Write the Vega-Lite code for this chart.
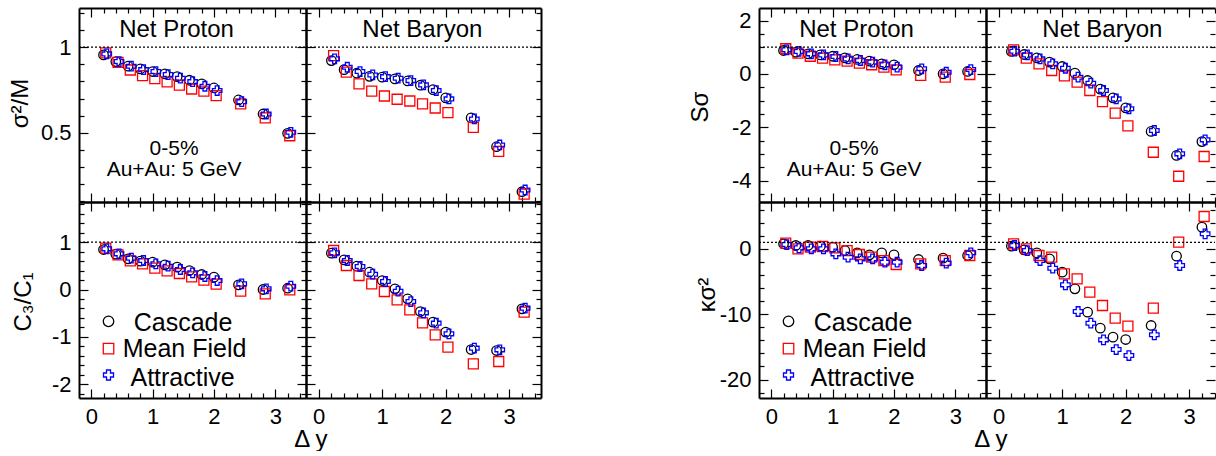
{
"$schema":"https://vega.github.io/schema/vega-lite/v6.json",
"background":"white",
"padding":{"left":8,"top":1,"right":0,"bottom":0},
"config":{
 "view":{"stroke":null},
 "axis":{"grid":false,"domainColor":"#000","domainWidth":2,"tickColor":"#000","tickWidth":1.2,"labelFont":"Liberation Sans","labelFontSize":22,"labelColor":"#000","titleFont":"Liberation Sans","titleFontSize":24,"titleFontWeight":"normal","titleColor":"#000","labelFlush":false,"labelOverlap":false,"labelBound":false},
 "text":{"font":"Liberation Sans","color":"#000"}
},
"datasets":{"pts":[
{"o":"s2M","s":"P","m":"C","d":0.2,"v":0.955},{"o":"s2M","s":"P","m":"C","d":0.4,"v":0.916},{"o":"s2M","s":"P","m":"C","d":0.6,"v":0.889},{"o":"s2M","s":"P","m":"C","d":0.8,"v":0.873},{"o":"s2M","s":"P","m":"C","d":1.0,"v":0.858},{"o":"s2M","s":"P","m":"C","d":1.2,"v":0.844},{"o":"s2M","s":"P","m":"C","d":1.4,"v":0.828},{"o":"s2M","s":"P","m":"C","d":1.6,"v":0.807},{"o":"s2M","s":"P","m":"C","d":1.8,"v":0.786},{"o":"s2M","s":"P","m":"C","d":2.0,"v":0.762},{"o":"s2M","s":"P","m":"C","d":2.4,"v":0.692},{"o":"s2M","s":"P","m":"C","d":2.8,"v":0.610},{"o":"s2M","s":"P","m":"C","d":3.2,"v":0.497},
{"o":"s2M","s":"P","m":"M","d":0.2,"v":0.967},{"o":"s2M","s":"P","m":"M","d":0.4,"v":0.912},{"o":"s2M","s":"P","m":"M","d":0.6,"v":0.867},{"o":"s2M","s":"P","m":"M","d":0.8,"v":0.834},{"o":"s2M","s":"P","m":"M","d":1.0,"v":0.817},{"o":"s2M","s":"P","m":"M","d":1.2,"v":0.797},{"o":"s2M","s":"P","m":"M","d":1.4,"v":0.778},{"o":"s2M","s":"P","m":"M","d":1.6,"v":0.756},{"o":"s2M","s":"P","m":"M","d":1.8,"v":0.743},{"o":"s2M","s":"P","m":"M","d":2.0,"v":0.717},{"o":"s2M","s":"P","m":"M","d":2.4,"v":0.669},{"o":"s2M","s":"P","m":"M","d":2.8,"v":0.587},{"o":"s2M","s":"P","m":"M","d":3.2,"v":0.483},
{"o":"s2M","s":"P","m":"A","d":0.2,"v":0.961},{"o":"s2M","s":"P","m":"A","d":0.4,"v":0.916},{"o":"s2M","s":"P","m":"A","d":0.6,"v":0.889},{"o":"s2M","s":"P","m":"A","d":0.8,"v":0.869},{"o":"s2M","s":"P","m":"A","d":1.0,"v":0.858},{"o":"s2M","s":"P","m":"A","d":1.2,"v":0.840},{"o":"s2M","s":"P","m":"A","d":1.4,"v":0.819},{"o":"s2M","s":"P","m":"A","d":1.6,"v":0.799},{"o":"s2M","s":"P","m":"A","d":1.8,"v":0.772},{"o":"s2M","s":"P","m":"A","d":2.0,"v":0.747},{"o":"s2M","s":"P","m":"A","d":2.4,"v":0.682},{"o":"s2M","s":"P","m":"A","d":2.8,"v":0.610},{"o":"s2M","s":"P","m":"A","d":3.2,"v":0.503},
{"o":"s2M","s":"B","m":"C","d":0.2,"v":0.922},{"o":"s2M","s":"B","m":"C","d":0.4,"v":0.869},{"o":"s2M","s":"B","m":"C","d":0.6,"v":0.848},{"o":"s2M","s":"B","m":"C","d":0.8,"v":0.830},{"o":"s2M","s":"B","m":"C","d":1.0,"v":0.825},{"o":"s2M","s":"B","m":"C","d":1.2,"v":0.815},{"o":"s2M","s":"B","m":"C","d":1.4,"v":0.803},{"o":"s2M","s":"B","m":"C","d":1.6,"v":0.778},{"o":"s2M","s":"B","m":"C","d":1.8,"v":0.752},{"o":"s2M","s":"B","m":"C","d":2.0,"v":0.704},{"o":"s2M","s":"B","m":"C","d":2.4,"v":0.587},{"o":"s2M","s":"B","m":"C","d":2.8,"v":0.419},{"o":"s2M","s":"B","m":"C","d":3.2,"v":0.156},
{"o":"s2M","s":"B","m":"M","d":0.2,"v":0.951},{"o":"s2M","s":"B","m":"M","d":0.4,"v":0.854},{"o":"s2M","s":"B","m":"M","d":0.6,"v":0.786},{"o":"s2M","s":"B","m":"M","d":0.8,"v":0.743},{"o":"s2M","s":"B","m":"M","d":1.0,"v":0.715},{"o":"s2M","s":"B","m":"M","d":1.2,"v":0.696},{"o":"s2M","s":"B","m":"M","d":1.4,"v":0.686},{"o":"s2M","s":"B","m":"M","d":1.6,"v":0.669},{"o":"s2M","s":"B","m":"M","d":1.8,"v":0.645},{"o":"s2M","s":"B","m":"M","d":2.0,"v":0.618},{"o":"s2M","s":"B","m":"M","d":2.4,"v":0.532},{"o":"s2M","s":"B","m":"M","d":2.8,"v":0.392},{"o":"s2M","s":"B","m":"M","d":3.2,"v":0.142},
{"o":"s2M","s":"B","m":"A","d":0.2,"v":0.932},{"o":"s2M","s":"B","m":"A","d":0.4,"v":0.883},{"o":"s2M","s":"B","m":"A","d":0.6,"v":0.858},{"o":"s2M","s":"B","m":"A","d":0.8,"v":0.838},{"o":"s2M","s":"B","m":"A","d":1.0,"v":0.828},{"o":"s2M","s":"B","m":"A","d":1.2,"v":0.819},{"o":"s2M","s":"B","m":"A","d":1.4,"v":0.805},{"o":"s2M","s":"B","m":"A","d":1.6,"v":0.780},{"o":"s2M","s":"B","m":"A","d":1.8,"v":0.747},{"o":"s2M","s":"B","m":"A","d":2.0,"v":0.698},{"o":"s2M","s":"B","m":"A","d":2.4,"v":0.581},{"o":"s2M","s":"B","m":"A","d":2.8,"v":0.429},{"o":"s2M","s":"B","m":"A","d":3.2,"v":0.166},
{"o":"C3","s":"P","m":"C","d":0.2,"v":0.845},{"o":"C3","s":"P","m":"C","d":0.4,"v":0.746},{"o":"C3","s":"P","m":"C","d":0.6,"v":0.648},{"o":"C3","s":"P","m":"C","d":0.8,"v":0.599},{"o":"C3","s":"P","m":"C","d":1.0,"v":0.577},{"o":"C3","s":"P","m":"C","d":1.2,"v":0.521},{"o":"C3","s":"P","m":"C","d":1.4,"v":0.472},{"o":"C3","s":"P","m":"C","d":1.6,"v":0.401},{"o":"C3","s":"P","m":"C","d":1.8,"v":0.317},{"o":"C3","s":"P","m":"C","d":2.0,"v":0.261},{"o":"C3","s":"P","m":"C","d":2.4,"v":0.099},{"o":"C3","s":"P","m":"C","d":2.8,"v":0.0},{"o":"C3","s":"P","m":"C","d":3.2,"v":0.028},
{"o":"C3","s":"P","m":"M","d":0.2,"v":0.873},{"o":"C3","s":"P","m":"M","d":0.4,"v":0.732},{"o":"C3","s":"P","m":"M","d":0.6,"v":0.606},{"o":"C3","s":"P","m":"M","d":0.8,"v":0.542},{"o":"C3","s":"P","m":"M","d":1.0,"v":0.451},{"o":"C3","s":"P","m":"M","d":1.2,"v":0.394},{"o":"C3","s":"P","m":"M","d":1.4,"v":0.338},{"o":"C3","s":"P","m":"M","d":1.6,"v":0.268},{"o":"C3","s":"P","m":"M","d":1.8,"v":0.197},{"o":"C3","s":"P","m":"M","d":2.0,"v":0.113},{"o":"C3","s":"P","m":"M","d":2.4,"v":-0.035},{"o":"C3","s":"P","m":"M","d":2.8,"v":-0.092},{"o":"C3","s":"P","m":"M","d":3.2,"v":-0.007},
{"o":"C3","s":"P","m":"A","d":0.2,"v":0.859},{"o":"C3","s":"P","m":"A","d":0.4,"v":0.754},{"o":"C3","s":"P","m":"A","d":0.6,"v":0.662},{"o":"C3","s":"P","m":"A","d":0.8,"v":0.613},{"o":"C3","s":"P","m":"A","d":1.0,"v":0.542},{"o":"C3","s":"P","m":"A","d":1.2,"v":0.493},{"o":"C3","s":"P","m":"A","d":1.4,"v":0.423},{"o":"C3","s":"P","m":"A","d":1.6,"v":0.352},{"o":"C3","s":"P","m":"A","d":1.8,"v":0.275},{"o":"C3","s":"P","m":"A","d":2.0,"v":0.190},{"o":"C3","s":"P","m":"A","d":2.4,"v":0.120},{"o":"C3","s":"P","m":"A","d":2.8,"v":0.014},{"o":"C3","s":"P","m":"A","d":3.2,"v":0.070},
{"o":"C3","s":"B","m":"C","d":0.2,"v":0.768},{"o":"C3","s":"B","m":"C","d":0.4,"v":0.627},{"o":"C3","s":"B","m":"C","d":0.6,"v":0.493},{"o":"C3","s":"B","m":"C","d":0.8,"v":0.366},{"o":"C3","s":"B","m":"C","d":1.0,"v":0.190},{"o":"C3","s":"B","m":"C","d":1.2,"v":0.014},{"o":"C3","s":"B","m":"C","d":1.4,"v":-0.197},{"o":"C3","s":"B","m":"C","d":1.6,"v":-0.465},{"o":"C3","s":"B","m":"C","d":1.8,"v":-0.690},{"o":"C3","s":"B","m":"C","d":2.0,"v":-0.901},{"o":"C3","s":"B","m":"C","d":2.4,"v":-1.268},{"o":"C3","s":"B","m":"C","d":2.8,"v":-1.289},{"o":"C3","s":"B","m":"C","d":3.2,"v":-0.408},
{"o":"C3","s":"B","m":"M","d":0.2,"v":0.824},{"o":"C3","s":"B","m":"M","d":0.4,"v":0.507},{"o":"C3","s":"B","m":"M","d":0.6,"v":0.296},{"o":"C3","s":"B","m":"M","d":0.8,"v":0.120},{"o":"C3","s":"B","m":"M","d":1.0,"v":-0.042},{"o":"C3","s":"B","m":"M","d":1.2,"v":-0.218},{"o":"C3","s":"B","m":"M","d":1.4,"v":-0.430},{"o":"C3","s":"B","m":"M","d":1.6,"v":-0.704},{"o":"C3","s":"B","m":"M","d":1.8,"v":-0.958},{"o":"C3","s":"B","m":"M","d":2.0,"v":-1.218},{"o":"C3","s":"B","m":"M","d":2.4,"v":-1.570},{"o":"C3","s":"B","m":"M","d":2.8,"v":-1.521},{"o":"C3","s":"B","m":"M","d":3.2,"v":-0.479},
{"o":"C3","s":"B","m":"A","d":0.2,"v":0.775},{"o":"C3","s":"B","m":"A","d":0.4,"v":0.613},{"o":"C3","s":"B","m":"A","d":0.6,"v":0.486},{"o":"C3","s":"B","m":"A","d":0.8,"v":0.324},{"o":"C3","s":"B","m":"A","d":1.0,"v":0.169},{"o":"C3","s":"B","m":"A","d":1.2,"v":-0.035},{"o":"C3","s":"B","m":"A","d":1.4,"v":-0.254},{"o":"C3","s":"B","m":"A","d":1.6,"v":-0.493},{"o":"C3","s":"B","m":"A","d":1.8,"v":-0.711},{"o":"C3","s":"B","m":"A","d":2.0,"v":-0.937},{"o":"C3","s":"B","m":"A","d":2.4,"v":-1.239},{"o":"C3","s":"B","m":"A","d":2.8,"v":-1.275},{"o":"C3","s":"B","m":"A","d":3.2,"v":-0.394},
{"o":"Ss","s":"P","m":"C","d":0.2,"v":0.875},{"o":"Ss","s":"P","m":"C","d":0.4,"v":0.81},{"o":"Ss","s":"P","m":"C","d":0.6,"v":0.75},{"o":"Ss","s":"P","m":"C","d":0.8,"v":0.71},{"o":"Ss","s":"P","m":"C","d":1.0,"v":0.66},{"o":"Ss","s":"P","m":"C","d":1.2,"v":0.60},{"o":"Ss","s":"P","m":"C","d":1.4,"v":0.54},{"o":"Ss","s":"P","m":"C","d":1.6,"v":0.475},{"o":"Ss","s":"P","m":"C","d":1.8,"v":0.375},{"o":"Ss","s":"P","m":"C","d":2.0,"v":0.34},{"o":"Ss","s":"P","m":"C","d":2.4,"v":0.125},{"o":"Ss","s":"P","m":"C","d":2.8,"v":0.0},{"o":"Ss","s":"P","m":"C","d":3.2,"v":0.09},
{"o":"Ss","s":"P","m":"M","d":0.2,"v":0.94},{"o":"Ss","s":"P","m":"M","d":0.4,"v":0.775},{"o":"Ss","s":"P","m":"M","d":0.6,"v":0.66},{"o":"Ss","s":"P","m":"M","d":0.8,"v":0.59},{"o":"Ss","s":"P","m":"M","d":1.0,"v":0.525},{"o":"Ss","s":"P","m":"M","d":1.2,"v":0.475},{"o":"Ss","s":"P","m":"M","d":1.4,"v":0.40},{"o":"Ss","s":"P","m":"M","d":1.6,"v":0.34},{"o":"Ss","s":"P","m":"M","d":1.8,"v":0.25},{"o":"Ss","s":"P","m":"M","d":2.0,"v":0.15},{"o":"Ss","s":"P","m":"M","d":2.4,"v":-0.06},{"o":"Ss","s":"P","m":"M","d":2.8,"v":-0.125},{"o":"Ss","s":"P","m":"M","d":3.2,"v":-0.025},
{"o":"Ss","s":"P","m":"A","d":0.2,"v":0.90},{"o":"Ss","s":"P","m":"A","d":0.4,"v":0.84},{"o":"Ss","s":"P","m":"A","d":0.6,"v":0.75},{"o":"Ss","s":"P","m":"A","d":0.8,"v":0.71},{"o":"Ss","s":"P","m":"A","d":1.0,"v":0.65},{"o":"Ss","s":"P","m":"A","d":1.2,"v":0.56},{"o":"Ss","s":"P","m":"A","d":1.4,"v":0.50},{"o":"Ss","s":"P","m":"A","d":1.6,"v":0.44},{"o":"Ss","s":"P","m":"A","d":1.8,"v":0.34},{"o":"Ss","s":"P","m":"A","d":2.0,"v":0.25},{"o":"Ss","s":"P","m":"A","d":2.4,"v":0.19},{"o":"Ss","s":"P","m":"A","d":2.8,"v":0.06},{"o":"Ss","s":"P","m":"A","d":3.2,"v":0.16},
{"o":"Ss","s":"B","m":"C","d":0.2,"v":0.84},{"o":"Ss","s":"B","m":"C","d":0.4,"v":0.725},{"o":"Ss","s":"B","m":"C","d":0.6,"v":0.60},{"o":"Ss","s":"B","m":"C","d":0.8,"v":0.44},{"o":"Ss","s":"B","m":"C","d":1.0,"v":0.275},{"o":"Ss","s":"B","m":"C","d":1.2,"v":0.025},{"o":"Ss","s":"B","m":"C","d":1.4,"v":-0.25},{"o":"Ss","s":"B","m":"C","d":1.6,"v":-0.575},{"o":"Ss","s":"B","m":"C","d":1.8,"v":-0.90},{"o":"Ss","s":"B","m":"C","d":2.0,"v":-1.275},{"o":"Ss","s":"B","m":"C","d":2.4,"v":-2.16},{"o":"Ss","s":"B","m":"C","d":2.8,"v":-3.06},{"o":"Ss","s":"B","m":"C","d":3.2,"v":-2.54},
{"o":"Ss","s":"B","m":"M","d":0.2,"v":0.90},{"o":"Ss","s":"B","m":"M","d":0.4,"v":0.59},{"o":"Ss","s":"B","m":"M","d":0.6,"v":0.375},{"o":"Ss","s":"B","m":"M","d":0.8,"v":0.125},{"o":"Ss","s":"B","m":"M","d":1.0,"v":-0.075},{"o":"Ss","s":"B","m":"M","d":1.2,"v":-0.31},{"o":"Ss","s":"B","m":"M","d":1.4,"v":-0.625},{"o":"Ss","s":"B","m":"M","d":1.6,"v":-1.04},{"o":"Ss","s":"B","m":"M","d":1.8,"v":-1.475},{"o":"Ss","s":"B","m":"M","d":2.0,"v":-1.95},{"o":"Ss","s":"B","m":"M","d":2.4,"v":-2.94},{"o":"Ss","s":"B","m":"M","d":2.8,"v":-3.84},{"o":"Ss","s":"B","m":"M","d":3.2,"v":-3.10},
{"o":"Ss","s":"B","m":"A","d":0.2,"v":0.85},{"o":"Ss","s":"B","m":"A","d":0.4,"v":0.71},{"o":"Ss","s":"B","m":"A","d":0.6,"v":0.56},{"o":"Ss","s":"B","m":"A","d":0.8,"v":0.375},{"o":"Ss","s":"B","m":"A","d":1.0,"v":0.21},{"o":"Ss","s":"B","m":"A","d":1.2,"v":-0.125},{"o":"Ss","s":"B","m":"A","d":1.4,"v":-0.35},{"o":"Ss","s":"B","m":"A","d":1.6,"v":-0.625},{"o":"Ss","s":"B","m":"A","d":1.8,"v":-0.94},{"o":"Ss","s":"B","m":"A","d":2.0,"v":-1.31},{"o":"Ss","s":"B","m":"A","d":2.4,"v":-2.125},{"o":"Ss","s":"B","m":"A","d":2.8,"v":-3.0},{"o":"Ss","s":"B","m":"A","d":3.2,"v":-2.475},
{"o":"k2","s":"P","m":"C","d":0.2,"v":0.77},{"o":"k2","s":"P","m":"C","d":0.4,"v":0.51},{"o":"k2","s":"P","m":"C","d":0.6,"v":0.51},{"o":"k2","s":"P","m":"C","d":0.8,"v":0.41},{"o":"k2","s":"P","m":"C","d":1.0,"v":0.26},{"o":"k2","s":"P","m":"C","d":1.2,"v":-0.26},{"o":"k2","s":"P","m":"C","d":1.4,"v":-0.61},{"o":"k2","s":"P","m":"C","d":1.6,"v":-0.92},{"o":"k2","s":"P","m":"C","d":1.8,"v":-0.61},{"o":"k2","s":"P","m":"C","d":2.0,"v":-0.92},{"o":"k2","s":"P","m":"C","d":2.4,"v":-1.63},{"o":"k2","s":"P","m":"C","d":2.8,"v":-1.43},{"o":"k2","s":"P","m":"C","d":3.2,"v":-1.02},
{"o":"k2","s":"P","m":"M","d":0.2,"v":0.87},{"o":"k2","s":"P","m":"M","d":0.4,"v":0.0},{"o":"k2","s":"P","m":"M","d":0.6,"v":0.26},{"o":"k2","s":"P","m":"M","d":0.8,"v":0.36},{"o":"k2","s":"P","m":"M","d":1.0,"v":0.15},{"o":"k2","s":"P","m":"M","d":1.2,"v":-0.26},{"o":"k2","s":"P","m":"M","d":1.4,"v":-0.87},{"o":"k2","s":"P","m":"M","d":1.6,"v":-1.28},{"o":"k2","s":"P","m":"M","d":1.8,"v":-1.79},{"o":"k2","s":"P","m":"M","d":2.0,"v":-2.40},{"o":"k2","s":"P","m":"M","d":2.4,"v":-2.30},{"o":"k2","s":"P","m":"M","d":2.8,"v":-1.79},{"o":"k2","s":"P","m":"M","d":3.2,"v":-1.02},
{"o":"k2","s":"P","m":"A","d":0.2,"v":0.66},{"o":"k2","s":"P","m":"A","d":0.4,"v":0.15},{"o":"k2","s":"P","m":"A","d":0.6,"v":0.0},{"o":"k2","s":"P","m":"A","d":0.8,"v":0.0},{"o":"k2","s":"P","m":"A","d":1.0,"v":-0.77},{"o":"k2","s":"P","m":"A","d":1.2,"v":-1.28},{"o":"k2","s":"P","m":"A","d":1.4,"v":-1.53},{"o":"k2","s":"P","m":"A","d":1.6,"v":-1.53},{"o":"k2","s":"P","m":"A","d":1.8,"v":-2.04},{"o":"k2","s":"P","m":"A","d":2.0,"v":-2.04},{"o":"k2","s":"P","m":"A","d":2.4,"v":-2.55},{"o":"k2","s":"P","m":"A","d":2.8,"v":-2.19},{"o":"k2","s":"P","m":"A","d":3.2,"v":-0.61},
{"o":"k2","s":"B","m":"C","d":0.2,"v":0.41},{"o":"k2","s":"B","m":"C","d":0.4,"v":-0.15},{"o":"k2","s":"B","m":"C","d":0.6,"v":-0.61},{"o":"k2","s":"B","m":"C","d":0.8,"v":-1.53},{"o":"k2","s":"B","m":"C","d":1.0,"v":-3.57},{"o":"k2","s":"B","m":"C","d":1.2,"v":-6.12},{"o":"k2","s":"B","m":"C","d":1.4,"v":-9.69},{"o":"k2","s":"B","m":"C","d":1.6,"v":-12.14},{"o":"k2","s":"B","m":"C","d":1.8,"v":-13.52},{"o":"k2","s":"B","m":"C","d":2.0,"v":-13.88},{"o":"k2","s":"B","m":"C","d":2.4,"v":-11.73},{"o":"k2","s":"B","m":"C","d":2.8,"v":-1.12},{"o":"k2","s":"B","m":"C","d":3.2,"v":3.32},
{"o":"k2","s":"B","m":"M","d":0.2,"v":0.77},{"o":"k2","s":"B","m":"M","d":0.4,"v":0.0},{"o":"k2","s":"B","m":"M","d":0.6,"v":-1.02},{"o":"k2","s":"B","m":"M","d":0.8,"v":-1.28},{"o":"k2","s":"B","m":"M","d":1.0,"v":-3.83},{"o":"k2","s":"B","m":"M","d":1.2,"v":-4.59},{"o":"k2","s":"B","m":"M","d":1.4,"v":-6.63},{"o":"k2","s":"B","m":"M","d":1.6,"v":-8.67},{"o":"k2","s":"B","m":"M","d":1.8,"v":-10.61},{"o":"k2","s":"B","m":"M","d":2.0,"v":-11.84},{"o":"k2","s":"B","m":"M","d":2.4,"v":-9.08},{"o":"k2","s":"B","m":"M","d":2.8,"v":1.02},{"o":"k2","s":"B","m":"M","d":3.2,"v":4.95},
{"o":"k2","s":"B","m":"A","d":0.2,"v":0.51},{"o":"k2","s":"B","m":"A","d":0.4,"v":-0.26},{"o":"k2","s":"B","m":"A","d":0.6,"v":-1.79},{"o":"k2","s":"B","m":"A","d":0.8,"v":-2.96},{"o":"k2","s":"B","m":"A","d":1.0,"v":-5.51},{"o":"k2","s":"B","m":"A","d":1.2,"v":-9.59},{"o":"k2","s":"B","m":"A","d":1.4,"v":-11.38},{"o":"k2","s":"B","m":"A","d":1.6,"v":-13.93},{"o":"k2","s":"B","m":"A","d":1.8,"v":-15.41},{"o":"k2","s":"B","m":"A","d":2.0,"v":-16.33},{"o":"k2","s":"B","m":"A","d":2.4,"v":-13.16},{"o":"k2","s":"B","m":"A","d":2.8,"v":-2.55},{"o":"k2","s":"B","m":"A","d":3.2,"v":2.30}
]},
"concat":[
  {"width":227,"height":194,"resolve":{"axis":{"x":"independent","y":"independent"}},"layer":[
   {"data":{"name":"pts"},"transform":[{"filter":"datum.o=='s2M'&&datum.s=='P'&&datum.m=='C'"}],"mark":{"type":"point","shape":"circle","filled":false,"stroke":"#000","strokeWidth":1.3,"size":90,"opacity":1},
    "encoding":{"x":{"field":"d","type":"quantitative","scale":{"domain":[-0.2,3.5],"nice":false,"zero":false},"axis":{"orient":"bottom","values":[0,0.2,0.4,0.6,0.8,1,1.2,1.4,1.6,1.8,2,2.2,2.4,2.6,2.8,3,3.2,3.4],"tickSize":{"condition":{"test":"abs(datum.value-round(datum.value))<0.001","value":-9},"value":-5},"labels":false,"title":null}},
     "y":{"field":"v","type":"quantitative","scale":{"domain":[0.096,1.229],"nice":false,"zero":false},"axis":{"orient":"left","values":[0.1,0.2,0.3,0.4,0.5,0.6,0.7,0.8,0.9,1,1.1,1.2],"tickSize":{"condition":{"test":"abs(datum.value*2-round(datum.value*2))<0.001","value":-9},"value":-5},"labelExpr":"abs(datum.value*2-round(datum.value*2))<0.001 ? ''+datum.value : ''","labelPadding":17,"title":"σ²/M","titleX":-59,"titleY":95,"titleAngle":270,"titleAlign":"center","titleBaseline":"middle"}}}},
   {"data":{"name":"pts"},"transform":[{"filter":"datum.o=='s2M'&&datum.s=='P'&&datum.m=='M'"}],"mark":{"type":"point","shape":"square","filled":false,"stroke":"#ff0000","strokeWidth":1.3,"size":100,"opacity":1,"xOffset":2.2},
    "encoding":{"x":{"field":"d","type":"quantitative","axis":null},"y":{"field":"v","type":"quantitative","axis":null}}},
   {"data":{"name":"pts"},"transform":[{"filter":"datum.o=='s2M'&&datum.s=='P'&&datum.m=='A'"}],"mark":{"type":"point","shape":"cross","filled":false,"stroke":"#0000ff","strokeWidth":1.3,"size":90,"opacity":1,"xOffset":3.2},
    "encoding":{"x":{"field":"d","type":"quantitative","axis":null},"y":{"field":"v","type":"quantitative","axis":null}}},
   {"data":{"values":[{}]},"mark":{"type":"rule","stroke":"#000","strokeWidth":1.3,"strokeDash":[2,2]},
    "encoding":{"x":{"datum":-0.2,"type":"quantitative","axis":{"orient":"top","values":[0,0.2,0.4,0.6,0.8,1,1.2,1.4,1.6,1.8,2,2.2,2.4,2.6,2.8,3,3.2,3.4],"tickSize":{"condition":{"test":"abs(datum.value-round(datum.value))<0.001","value":-9},"value":-5},"labels":false,"title":null}},"x2":{"datum":3.5},
     "y":{"datum":1,"type":"quantitative","axis":{"orient":"right","values":[0.1,0.2,0.3,0.4,0.5,0.6,0.7,0.8,0.9,1,1.1,1.2],"tickSize":{"condition":{"test":"abs(datum.value*2-round(datum.value*2))<0.001","value":-9},"value":-5},"labels":false,"title":null}}}},
   {"data":{"values":[{}]},"mark":{"type":"text","text":"Net Proton","fontSize":24,"align":"center","baseline":"alphabetic"},"encoding":{"x":{"datum":1.39,"type":"quantitative","axis":null},"y":{"datum":1.058,"type":"quantitative","axis":null}}},
   {"data":{"values":[{}]},"mark":{"type":"text","text":["0-5%","Au+Au: 5 GeV"],"fontSize":21,"lineHeight":21.5,"align":"center","baseline":"middle"},"encoding":{"x":{"datum":1.35,"type":"quantitative","axis":null},"y":{"datum":0.406,"type":"quantitative","axis":null}}}
  ]},
  {"width":235,"height":194,"resolve":{"axis":{"x":"independent","y":"independent"}},"layer":[
   {"data":{"name":"pts"},"transform":[{"filter":"datum.o=='s2M'&&datum.s=='B'&&datum.m=='C'"}],"mark":{"type":"point","shape":"circle","filled":false,"stroke":"#000","strokeWidth":1.3,"size":90,"opacity":1},
    "encoding":{"x":{"field":"d","type":"quantitative","scale":{"domain":[-0.2,3.5],"nice":false,"zero":false},"axis":{"orient":"bottom","values":[0,0.2,0.4,0.6,0.8,1,1.2,1.4,1.6,1.8,2,2.2,2.4,2.6,2.8,3,3.2,3.4],"tickSize":{"condition":{"test":"abs(datum.value-round(datum.value))<0.001","value":-9},"value":-5},"labels":false,"title":null}},
     "y":{"field":"v","type":"quantitative","scale":{"domain":[0.096,1.229],"nice":false,"zero":false},"axis":{"orient":"left","values":[0.1,0.2,0.3,0.4,0.5,0.6,0.7,0.8,0.9,1,1.1,1.2],"tickSize":{"condition":{"test":"abs(datum.value*2-round(datum.value*2))<0.001","value":-9},"value":-5},"labels":false,"title":null}}}},
   {"data":{"name":"pts"},"transform":[{"filter":"datum.o=='s2M'&&datum.s=='B'&&datum.m=='M'"}],"mark":{"type":"point","shape":"square","filled":false,"stroke":"#ff0000","strokeWidth":1.3,"size":100,"opacity":1,"xOffset":2.2},
    "encoding":{"x":{"field":"d","type":"quantitative","axis":null},"y":{"field":"v","type":"quantitative","axis":null}}},
   {"data":{"name":"pts"},"transform":[{"filter":"datum.o=='s2M'&&datum.s=='B'&&datum.m=='A'"}],"mark":{"type":"point","shape":"cross","filled":false,"stroke":"#0000ff","strokeWidth":1.3,"size":90,"opacity":1,"xOffset":3.2},
    "encoding":{"x":{"field":"d","type":"quantitative","axis":null},"y":{"field":"v","type":"quantitative","axis":null}}},
   {"data":{"values":[{}]},"mark":{"type":"rule","stroke":"#000","strokeWidth":1.3,"strokeDash":[2,2]},
    "encoding":{"x":{"datum":-0.2,"type":"quantitative","axis":{"orient":"top","values":[0,0.2,0.4,0.6,0.8,1,1.2,1.4,1.6,1.8,2,2.2,2.4,2.6,2.8,3,3.2,3.4],"tickSize":{"condition":{"test":"abs(datum.value-round(datum.value))<0.001","value":-9},"value":-5},"labels":false,"title":null}},"x2":{"datum":3.5},
     "y":{"datum":1,"type":"quantitative","axis":{"orient":"right","values":[0.1,0.2,0.3,0.4,0.5,0.6,0.7,0.8,0.9,1,1.1,1.2],"tickSize":{"condition":{"test":"abs(datum.value*2-round(datum.value*2))<0.001","value":-9},"value":-5},"labels":false,"title":null}}}},
   {"data":{"values":[{}]},"mark":{"type":"text","text":"Net Baryon","fontSize":24,"align":"center","baseline":"alphabetic"},"encoding":{"x":{"datum":1.632,"type":"quantitative","axis":null},"y":{"datum":1.058,"type":"quantitative","axis":null}}}
  ]},
  {"width":218,"height":194,"data":{"values":[{}]},"mark":{"type":"text","text":""},"encoding":{}},
  {"width":227,"height":194,"resolve":{"axis":{"x":"independent","y":"independent"}},"layer":[
   {"data":{"name":"pts"},"transform":[{"filter":"datum.o=='Ss'&&datum.s=='P'&&datum.m=='C'"}],"mark":{"type":"point","shape":"circle","filled":false,"stroke":"#000","strokeWidth":1.3,"size":90,"opacity":1},
    "encoding":{"x":{"field":"d","type":"quantitative","scale":{"domain":[-0.2,3.5],"nice":false,"zero":false},"axis":{"orient":"bottom","values":[0,0.2,0.4,0.6,0.8,1,1.2,1.4,1.6,1.8,2,2.2,2.4,2.6,2.8,3,3.2,3.4],"tickSize":{"condition":{"test":"abs(datum.value-round(datum.value))<0.001","value":-9},"value":-5},"labels":false,"title":null}},
     "y":{"field":"v","type":"quantitative","scale":{"domain":[-4.806,2.469],"nice":false,"zero":false},"axis":{"orient":"left","values":[-4.5,-4,-3.5,-3,-2.5,-2,-1.5,-1,-0.5,0,0.5,1,1.5,2],"tickSize":{"condition":{"test":"abs(datum.value/2-round(datum.value/2))<0.001","value":-9},"value":-5},"labelExpr":"abs(datum.value/2-round(datum.value/2))<0.001 ? ''+round(datum.value) : ''","labelPadding":17,"title":"Sσ","titleX":-59,"titleY":98.5,"titleAngle":270,"titleAlign":"center","titleBaseline":"middle"}}}},
   {"data":{"name":"pts"},"transform":[{"filter":"datum.o=='Ss'&&datum.s=='P'&&datum.m=='M'"}],"mark":{"type":"point","shape":"square","filled":false,"stroke":"#ff0000","strokeWidth":1.3,"size":100,"opacity":1,"xOffset":2.2},
    "encoding":{"x":{"field":"d","type":"quantitative","axis":null},"y":{"field":"v","type":"quantitative","axis":null}}},
   {"data":{"name":"pts"},"transform":[{"filter":"datum.o=='Ss'&&datum.s=='P'&&datum.m=='A'"}],"mark":{"type":"point","shape":"cross","filled":false,"stroke":"#0000ff","strokeWidth":1.3,"size":90,"opacity":1,"xOffset":3.2},
    "encoding":{"x":{"field":"d","type":"quantitative","axis":null},"y":{"field":"v","type":"quantitative","axis":null}}},
   {"data":{"values":[{}]},"mark":{"type":"rule","stroke":"#000","strokeWidth":1.3,"strokeDash":[2,2]},
    "encoding":{"x":{"datum":-0.2,"type":"quantitative","axis":{"orient":"top","values":[0,0.2,0.4,0.6,0.8,1,1.2,1.4,1.6,1.8,2,2.2,2.4,2.6,2.8,3,3.2,3.4],"tickSize":{"condition":{"test":"abs(datum.value-round(datum.value))<0.001","value":-9},"value":-5},"labels":false,"title":null}},"x2":{"datum":3.5},
     "y":{"datum":1,"type":"quantitative","axis":{"orient":"right","values":[-4.5,-4,-3.5,-3,-2.5,-2,-1.5,-1,-0.5,0,0.5,1,1.5,2],"tickSize":{"condition":{"test":"abs(datum.value/2-round(datum.value/2))<0.001","value":-9},"value":-5},"labels":false,"title":null}}}},
   {"data":{"values":[{}]},"mark":{"type":"text","text":"Net Proton","fontSize":24,"align":"center","baseline":"alphabetic"},"encoding":{"x":{"datum":1.39,"type":"quantitative","axis":null},"y":{"datum":1.374,"type":"quantitative","axis":null}}},
   {"data":{"values":[{}]},"mark":{"type":"text","text":["0-5%","Au+Au: 5 GeV"],"fontSize":21,"lineHeight":21.5,"align":"center","baseline":"middle"},"encoding":{"x":{"datum":1.35,"type":"quantitative","axis":null},"y":{"datum":-2.81,"type":"quantitative","axis":null}}}
  ]},
  {"width":229,"height":194,"resolve":{"axis":{"x":"independent","y":"independent"}},"layer":[
   {"data":{"name":"pts"},"transform":[{"filter":"datum.o=='Ss'&&datum.s=='B'&&datum.m=='C'"}],"mark":{"type":"point","shape":"circle","filled":false,"stroke":"#000","strokeWidth":1.3,"size":90,"opacity":1},
    "encoding":{"x":{"field":"d","type":"quantitative","scale":{"domain":[-0.2,3.406],"nice":false,"zero":false},"axis":{"orient":"bottom","values":[0,0.2,0.4,0.6,0.8,1,1.2,1.4,1.6,1.8,2,2.2,2.4,2.6,2.8,3,3.2,3.4],"tickSize":{"condition":{"test":"abs(datum.value-round(datum.value))<0.001","value":-9},"value":-5},"labels":false,"title":null}},
     "y":{"field":"v","type":"quantitative","scale":{"domain":[-4.806,2.469],"nice":false,"zero":false},"axis":{"orient":"left","values":[-4.5,-4,-3.5,-3,-2.5,-2,-1.5,-1,-0.5,0,0.5,1,1.5,2],"tickSize":{"condition":{"test":"abs(datum.value/2-round(datum.value/2))<0.001","value":-9},"value":-5},"labels":false,"title":null}}}},
   {"data":{"name":"pts"},"transform":[{"filter":"datum.o=='Ss'&&datum.s=='B'&&datum.m=='M'"}],"mark":{"type":"point","shape":"square","filled":false,"stroke":"#ff0000","strokeWidth":1.3,"size":100,"opacity":1,"xOffset":2.2},
    "encoding":{"x":{"field":"d","type":"quantitative","axis":null},"y":{"field":"v","type":"quantitative","axis":null}}},
   {"data":{"name":"pts"},"transform":[{"filter":"datum.o=='Ss'&&datum.s=='B'&&datum.m=='A'"}],"mark":{"type":"point","shape":"cross","filled":false,"stroke":"#0000ff","strokeWidth":1.3,"size":90,"opacity":1,"xOffset":3.2},
    "encoding":{"x":{"field":"d","type":"quantitative","axis":null},"y":{"field":"v","type":"quantitative","axis":null}}},
   {"data":{"values":[{}]},"mark":{"type":"rule","stroke":"#000","strokeWidth":1.3,"strokeDash":[2,2]},
    "encoding":{"x":{"datum":-0.2,"type":"quantitative","axis":{"orient":"top","values":[0,0.2,0.4,0.6,0.8,1,1.2,1.4,1.6,1.8,2,2.2,2.4,2.6,2.8,3,3.2,3.4],"tickSize":{"condition":{"test":"abs(datum.value-round(datum.value))<0.001","value":-9},"value":-5},"labels":false,"title":null}},"x2":{"datum":3.406},
     "y":{"datum":1,"type":"quantitative","axis":{"orient":"right","domain":false,"values":[-4.5,-4,-3.5,-3,-2.5,-2,-1.5,-1,-0.5,0,0.5,1,1.5,2],"tickSize":{"condition":{"test":"abs(datum.value/2-round(datum.value/2))<0.001","value":-9},"value":-5},"labels":false,"title":null}}}},
   {"data":{"values":[{}]},"mark":{"type":"text","text":"Net Baryon","fontSize":24,"align":"center","baseline":"alphabetic"},"encoding":{"x":{"datum":1.632,"type":"quantitative","axis":null},"y":{"datum":1.374,"type":"quantitative","axis":null}}}
  ]},
  {"width":227,"height":196,"resolve":{"axis":{"x":"independent","y":"independent"}},"layer":[
   {"data":{"name":"pts"},"transform":[{"filter":"datum.o=='C3'&&datum.s=='P'&&datum.m=='C'"}],"mark":{"type":"point","shape":"circle","filled":false,"stroke":"#000","strokeWidth":1.3,"size":90,"opacity":1},
    "encoding":{"x":{"field":"d","type":"quantitative","scale":{"domain":[-0.2,3.5],"nice":false,"zero":false},"axis":{"orient":"bottom","values":[0,0.2,0.4,0.6,0.8,1,1.2,1.4,1.6,1.8,2,2.2,2.4,2.6,2.8,3,3.2,3.4],"tickSize":{"condition":{"test":"abs(datum.value-round(datum.value))<0.001","value":-9},"value":-5},"labelExpr":"abs(datum.value-round(datum.value))<0.001 ? ''+round(datum.value) : ''","labelPadding":17,"title":"Δ y","titleX":248,"titleY":48,"titleAlign":"right","titleBaseline":"alphabetic","titleAngle":0,"titleFontSize":24}},
     "y":{"field":"v","type":"quantitative","scale":{"domain":[-2.292,1.849],"nice":false,"zero":false},"axis":{"orient":"left","values":[-2.2,-2,-1.8,-1.6,-1.4,-1.2,-1,-0.8,-0.6,-0.4,-0.2,0,0.2,0.4,0.6,0.8,1,1.2,1.4,1.6,1.8],"tickSize":{"condition":{"test":"abs(datum.value-round(datum.value))<0.001","value":-9},"value":-5},"labelExpr":"abs(datum.value-round(datum.value))<0.001 ? ''+round(datum.value) : ''","labelPadding":17,"title":"C₃/C₁","titleX":-56,"titleY":99.5,"titleAngle":270,"titleAlign":"center","titleBaseline":"middle"}}}},
   {"data":{"name":"pts"},"transform":[{"filter":"datum.o=='C3'&&datum.s=='P'&&datum.m=='M'"}],"mark":{"type":"point","shape":"square","filled":false,"stroke":"#ff0000","strokeWidth":1.3,"size":100,"opacity":1,"xOffset":2.2},
    "encoding":{"x":{"field":"d","type":"quantitative","axis":null},"y":{"field":"v","type":"quantitative","axis":null}}},
   {"data":{"name":"pts"},"transform":[{"filter":"datum.o=='C3'&&datum.s=='P'&&datum.m=='A'"}],"mark":{"type":"point","shape":"cross","filled":false,"stroke":"#0000ff","strokeWidth":1.3,"size":90,"opacity":1,"xOffset":3.2},
    "encoding":{"x":{"field":"d","type":"quantitative","axis":null},"y":{"field":"v","type":"quantitative","axis":null}}},
   {"data":{"values":[{}]},"mark":{"type":"rule","stroke":"#000","strokeWidth":1.3,"strokeDash":[2,2]},
    "encoding":{"x":{"datum":-0.2,"type":"quantitative","axis":{"orient":"top","values":[0,0.2,0.4,0.6,0.8,1,1.2,1.4,1.6,1.8,2,2.2,2.4,2.6,2.8,3,3.2,3.4],"tickSize":{"condition":{"test":"abs(datum.value-round(datum.value))<0.001","value":-9},"value":-5},"labels":false,"title":null}},"x2":{"datum":3.5},
     "y":{"datum":1,"type":"quantitative","axis":{"orient":"right","values":[-2.2,-2,-1.8,-1.6,-1.4,-1.2,-1,-0.8,-0.6,-0.4,-0.2,0,0.2,0.4,0.6,0.8,1,1.2,1.4,1.6,1.8],"tickSize":{"condition":{"test":"abs(datum.value-round(datum.value))<0.001","value":-9},"value":-5},"labels":false,"title":null}}}},
   {"data":{"values":[{}]},"mark":{"type":"point","shape":"circle","filled":false,"stroke":"#000","strokeWidth":1.3,"size":110,"opacity":1},"encoding":{"x":{"datum":0.281,"type":"quantitative","axis":null},"y":{"datum":-0.672,"type":"quantitative","axis":null}}},
   {"data":{"values":[{}]},"mark":{"type":"point","shape":"square","filled":false,"stroke":"#ff0000","strokeWidth":1.3,"size":110,"opacity":1},"encoding":{"x":{"datum":0.281,"type":"quantitative","axis":null},"y":{"datum":-1.247,"type":"quantitative","axis":null}}},
   {"data":{"values":[{}]},"mark":{"type":"point","shape":"cross","filled":false,"stroke":"#0000ff","strokeWidth":1.3,"size":100,"opacity":1},"encoding":{"x":{"datum":0.281,"type":"quantitative","axis":null},"y":{"datum":-1.806,"type":"quantitative","axis":null}}},
   {"data":{"values":[{}]},"mark":{"type":"text","text":"Cascade","fontSize":25,"align":"center","baseline":"alphabetic"},"encoding":{"x":{"datum":1.496,"type":"quantitative","axis":null},"y":{"datum":-0.866,"type":"quantitative","axis":null}}},
   {"data":{"values":[{}]},"mark":{"type":"text","text":"Mean Field","fontSize":25,"align":"center","baseline":"alphabetic"},"encoding":{"x":{"datum":1.52,"type":"quantitative","axis":null},"y":{"datum":-1.43,"type":"quantitative","axis":null}}},
   {"data":{"values":[{}]},"mark":{"type":"text","text":"Attractive","fontSize":25,"align":"center","baseline":"alphabetic"},"encoding":{"x":{"datum":1.488,"type":"quantitative","axis":null},"y":{"datum":-2.028,"type":"quantitative","axis":null}}}
  ]},
  {"width":235,"height":196,"resolve":{"axis":{"x":"independent","y":"independent"}},"layer":[
   {"data":{"name":"pts"},"transform":[{"filter":"datum.o=='C3'&&datum.s=='B'&&datum.m=='C'"}],"mark":{"type":"point","shape":"circle","filled":false,"stroke":"#000","strokeWidth":1.3,"size":90,"opacity":1},
    "encoding":{"x":{"field":"d","type":"quantitative","scale":{"domain":[-0.2,3.5],"nice":false,"zero":false},"axis":{"orient":"bottom","values":[0,0.2,0.4,0.6,0.8,1,1.2,1.4,1.6,1.8,2,2.2,2.4,2.6,2.8,3,3.2,3.4],"tickSize":{"condition":{"test":"abs(datum.value-round(datum.value))<0.001","value":-9},"value":-5},"labelExpr":"abs(datum.value-round(datum.value))<0.001 ? ''+round(datum.value) : ''","labelPadding":17,"title":null}},
     "y":{"field":"v","type":"quantitative","scale":{"domain":[-2.292,1.849],"nice":false,"zero":false},"axis":{"orient":"left","values":[-2.2,-2,-1.8,-1.6,-1.4,-1.2,-1,-0.8,-0.6,-0.4,-0.2,0,0.2,0.4,0.6,0.8,1,1.2,1.4,1.6,1.8],"tickSize":{"condition":{"test":"abs(datum.value-round(datum.value))<0.001","value":-9},"value":-5},"labels":false,"title":null}}}},
   {"data":{"name":"pts"},"transform":[{"filter":"datum.o=='C3'&&datum.s=='B'&&datum.m=='M'"}],"mark":{"type":"point","shape":"square","filled":false,"stroke":"#ff0000","strokeWidth":1.3,"size":100,"opacity":1,"xOffset":2.2},
    "encoding":{"x":{"field":"d","type":"quantitative","axis":null},"y":{"field":"v","type":"quantitative","axis":null}}},
   {"data":{"name":"pts"},"transform":[{"filter":"datum.o=='C3'&&datum.s=='B'&&datum.m=='A'"}],"mark":{"type":"point","shape":"cross","filled":false,"stroke":"#0000ff","strokeWidth":1.3,"size":90,"opacity":1,"xOffset":3.2},
    "encoding":{"x":{"field":"d","type":"quantitative","axis":null},"y":{"field":"v","type":"quantitative","axis":null}}},
   {"data":{"values":[{}]},"mark":{"type":"rule","stroke":"#000","strokeWidth":1.3,"strokeDash":[2,2]},
    "encoding":{"x":{"datum":-0.2,"type":"quantitative","axis":{"orient":"top","values":[0,0.2,0.4,0.6,0.8,1,1.2,1.4,1.6,1.8,2,2.2,2.4,2.6,2.8,3,3.2,3.4],"tickSize":{"condition":{"test":"abs(datum.value-round(datum.value))<0.001","value":-9},"value":-5},"labels":false,"title":null}},"x2":{"datum":3.5},
     "y":{"datum":1,"type":"quantitative","axis":{"orient":"right","values":[-2.2,-2,-1.8,-1.6,-1.4,-1.2,-1,-0.8,-0.6,-0.4,-0.2,0,0.2,0.4,0.6,0.8,1,1.2,1.4,1.6,1.8],"tickSize":{"condition":{"test":"abs(datum.value-round(datum.value))<0.001","value":-9},"value":-5},"labels":false,"title":null}}}}
  ]},
  {"width":218,"height":196,"data":{"values":[{}]},"mark":{"type":"text","text":""},"encoding":{}},
  {"width":227,"height":196,"resolve":{"axis":{"x":"independent","y":"independent"}},"layer":[
   {"data":{"name":"pts"},"transform":[{"filter":"datum.o=='k2'&&datum.s=='P'&&datum.m=='C'"}],"mark":{"type":"point","shape":"circle","filled":false,"stroke":"#000","strokeWidth":1.3,"size":90,"opacity":1},
    "encoding":{"x":{"field":"d","type":"quantitative","scale":{"domain":[-0.2,3.5],"nice":false,"zero":false},"axis":{"orient":"bottom","values":[0,0.2,0.4,0.6,0.8,1,1.2,1.4,1.6,1.8,2,2.2,2.4,2.6,2.8,3,3.2,3.4],"tickSize":{"condition":{"test":"abs(datum.value-round(datum.value))<0.001","value":-9},"value":-5},"labelExpr":"abs(datum.value-round(datum.value))<0.001 ? ''+round(datum.value) : ''","labelPadding":17,"title":"Δ y","titleX":248,"titleY":48,"titleAlign":"right","titleBaseline":"alphabetic","titleAngle":0,"titleFontSize":24}},
     "y":{"field":"v","type":"quantitative","scale":{"domain":[-22.83,7.168],"nice":false,"zero":false},"axis":{"orient":"left","values":[-22,-20,-18,-16,-14,-12,-10,-8,-6,-4,-2,0,2,4,6],"tickSize":{"condition":{"test":"abs(datum.value/10-round(datum.value/10))<0.001","value":-9},"value":-5},"labelExpr":"abs(datum.value/10-round(datum.value/10))<0.001 ? ''+round(datum.value) : ''","labelPadding":17,"title":"κσ²","titleX":-52,"titleY":92.5,"titleAngle":270,"titleAlign":"center","titleBaseline":"middle"}}}},
   {"data":{"name":"pts"},"transform":[{"filter":"datum.o=='k2'&&datum.s=='P'&&datum.m=='M'"}],"mark":{"type":"point","shape":"square","filled":false,"stroke":"#ff0000","strokeWidth":1.3,"size":100,"opacity":1,"xOffset":2.2},
    "encoding":{"x":{"field":"d","type":"quantitative","axis":null},"y":{"field":"v","type":"quantitative","axis":null}}},
   {"data":{"name":"pts"},"transform":[{"filter":"datum.o=='k2'&&datum.s=='P'&&datum.m=='A'"}],"mark":{"type":"point","shape":"cross","filled":false,"stroke":"#0000ff","strokeWidth":1.3,"size":90,"opacity":1,"xOffset":3.2},
    "encoding":{"x":{"field":"d","type":"quantitative","axis":null},"y":{"field":"v","type":"quantitative","axis":null}}},
   {"data":{"values":[{}]},"mark":{"type":"rule","stroke":"#000","strokeWidth":1.3,"strokeDash":[2,2]},
    "encoding":{"x":{"datum":-0.2,"type":"quantitative","axis":{"orient":"top","values":[0,0.2,0.4,0.6,0.8,1,1.2,1.4,1.6,1.8,2,2.2,2.4,2.6,2.8,3,3.2,3.4],"tickSize":{"condition":{"test":"abs(datum.value-round(datum.value))<0.001","value":-9},"value":-5},"labels":false,"title":null}},"x2":{"datum":3.5},
     "y":{"datum":1,"type":"quantitative","axis":{"orient":"right","values":[-22,-20,-18,-16,-14,-12,-10,-8,-6,-4,-2,0,2,4,6],"tickSize":{"condition":{"test":"abs(datum.value/10-round(datum.value/10))<0.001","value":-9},"value":-5},"labels":false,"title":null}}}},
   {"data":{"values":[{}]},"mark":{"type":"point","shape":"circle","filled":false,"stroke":"#000","strokeWidth":1.3,"size":110,"opacity":1},"encoding":{"x":{"datum":0.281,"type":"quantitative","axis":null},"y":{"datum":-11.09,"type":"quantitative","axis":null}}},
   {"data":{"values":[{}]},"mark":{"type":"point","shape":"square","filled":false,"stroke":"#ff0000","strokeWidth":1.3,"size":110,"opacity":1},"encoding":{"x":{"datum":0.281,"type":"quantitative","axis":null},"y":{"datum":-15.26,"type":"quantitative","axis":null}}},
   {"data":{"values":[{}]},"mark":{"type":"point","shape":"cross","filled":false,"stroke":"#0000ff","strokeWidth":1.3,"size":100,"opacity":1},"encoding":{"x":{"datum":0.281,"type":"quantitative","axis":null},"y":{"datum":-19.31,"type":"quantitative","axis":null}}},
   {"data":{"values":[{}]},"mark":{"type":"text","text":"Cascade","fontSize":25,"align":"center","baseline":"alphabetic"},"encoding":{"x":{"datum":1.496,"type":"quantitative","axis":null},"y":{"datum":-12.5,"type":"quantitative","axis":null}}},
   {"data":{"values":[{}]},"mark":{"type":"text","text":"Mean Field","fontSize":25,"align":"center","baseline":"alphabetic"},"encoding":{"x":{"datum":1.52,"type":"quantitative","axis":null},"y":{"datum":-16.59,"type":"quantitative","axis":null}}},
   {"data":{"values":[{}]},"mark":{"type":"text","text":"Attractive","fontSize":25,"align":"center","baseline":"alphabetic"},"encoding":{"x":{"datum":1.488,"type":"quantitative","axis":null},"y":{"datum":-20.92,"type":"quantitative","axis":null}}}
  ]},
  {"width":229,"height":196,"resolve":{"axis":{"x":"independent","y":"independent"}},"layer":[
   {"data":{"name":"pts"},"transform":[{"filter":"datum.o=='k2'&&datum.s=='B'&&datum.m=='C'"}],"mark":{"type":"point","shape":"circle","filled":false,"stroke":"#000","strokeWidth":1.3,"size":90,"opacity":1},
    "encoding":{"x":{"field":"d","type":"quantitative","scale":{"domain":[-0.2,3.406],"nice":false,"zero":false},"axis":{"orient":"bottom","values":[0,0.2,0.4,0.6,0.8,1,1.2,1.4,1.6,1.8,2,2.2,2.4,2.6,2.8,3,3.2,3.4],"tickSize":{"condition":{"test":"abs(datum.value-round(datum.value))<0.001","value":-9},"value":-5},"labelExpr":"abs(datum.value-round(datum.value))<0.001 ? ''+round(datum.value) : ''","labelPadding":17,"title":null}},
     "y":{"field":"v","type":"quantitative","scale":{"domain":[-22.83,7.168],"nice":false,"zero":false},"axis":{"orient":"left","values":[-22,-20,-18,-16,-14,-12,-10,-8,-6,-4,-2,0,2,4,6],"tickSize":{"condition":{"test":"abs(datum.value/10-round(datum.value/10))<0.001","value":-9},"value":-5},"labels":false,"title":null}}}},
   {"data":{"name":"pts"},"transform":[{"filter":"datum.o=='k2'&&datum.s=='B'&&datum.m=='M'"}],"mark":{"type":"point","shape":"square","filled":false,"stroke":"#ff0000","strokeWidth":1.3,"size":100,"opacity":1,"xOffset":2.2},
    "encoding":{"x":{"field":"d","type":"quantitative","axis":null},"y":{"field":"v","type":"quantitative","axis":null}}},
   {"data":{"name":"pts"},"transform":[{"filter":"datum.o=='k2'&&datum.s=='B'&&datum.m=='A'"}],"mark":{"type":"point","shape":"cross","filled":false,"stroke":"#0000ff","strokeWidth":1.3,"size":90,"opacity":1,"xOffset":3.2},
    "encoding":{"x":{"field":"d","type":"quantitative","axis":null},"y":{"field":"v","type":"quantitative","axis":null}}},
   {"data":{"values":[{}]},"mark":{"type":"rule","stroke":"#000","strokeWidth":1.3,"strokeDash":[2,2]},
    "encoding":{"x":{"datum":-0.2,"type":"quantitative","axis":{"orient":"top","values":[0,0.2,0.4,0.6,0.8,1,1.2,1.4,1.6,1.8,2,2.2,2.4,2.6,2.8,3,3.2,3.4],"tickSize":{"condition":{"test":"abs(datum.value-round(datum.value))<0.001","value":-9},"value":-5},"labels":false,"title":null}},"x2":{"datum":3.406},
     "y":{"datum":1,"type":"quantitative","axis":{"orient":"right","domain":false,"values":[-22,-20,-18,-16,-14,-12,-10,-8,-6,-4,-2,0,2,4,6],"tickSize":{"condition":{"test":"abs(datum.value/10-round(datum.value/10))<0.001","value":-9},"value":-5},"labels":false,"title":null}}}}
  ]}
],
"columns":5,"spacing":0,"bounds":"flush",
"resolve":{"scale":{"x":"independent","y":"independent"}}
}
